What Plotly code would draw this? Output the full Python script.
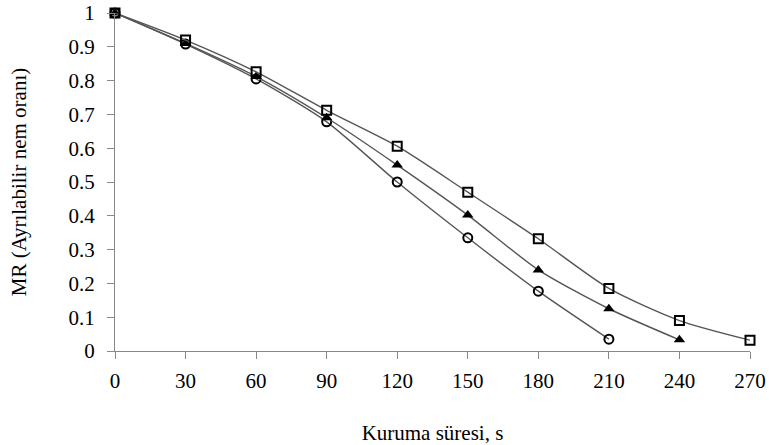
import plotly.graph_objects as go

t_circle = [0, 30, 60, 90, 120, 150, 180, 210]
mr_circle = [1.0, 0.908, 0.805, 0.678, 0.500, 0.335, 0.177, 0.035]
t_tri = [0, 30, 60, 90, 120, 150, 180, 210, 240]
mr_tri = [1.0, 0.910, 0.812, 0.690, 0.550, 0.402, 0.240, 0.125, 0.033]
t_sq = [0, 30, 60, 90, 120, 150, 180, 210, 240, 270]
mr_sq = [1.0, 0.920, 0.826, 0.712, 0.606, 0.470, 0.332, 0.185, 0.090, 0.032]

x_ticks = [0, 30, 60, 90, 120, 150, 180, 210, 240, 270]
y_ticks = [0, 0.1, 0.2, 0.3, 0.4, 0.5, 0.6, 0.7, 0.8, 0.9, 1]
y_labels = ["0", "0.1", "0.2", "0.3", "0.4", "0.5", "0.6", "0.7", "0.8", "0.9", "1"]

fig = go.Figure()
line_style = dict(color="#555555", width=1.4, shape="spline", smoothing=0.7)
fig.add_trace(go.Scatter(x=t_circle, y=mr_circle, mode="lines+markers", line=line_style,
                         marker=dict(symbol="circle-open", size=9, color="black", line=dict(width=2))))
fig.add_trace(go.Scatter(x=t_tri, y=mr_tri, mode="lines+markers", line=line_style,
                         marker=dict(symbol="triangle-up", size=10, color="black")))
fig.add_trace(go.Scatter(x=t_sq, y=mr_sq, mode="lines+markers", line=line_style,
                         marker=dict(symbol="square-open", size=9, color="black", line=dict(width=2))))

fam = "Liberation Serif, Times New Roman, serif"
font = dict(family=fam, size=21, color="black")
fig.update_layout(
    width=769, height=445,
    margin=dict(l=115, r=19, t=13, b=94),
    paper_bgcolor="white", plot_bgcolor="white",
    showlegend=False, font=font,
    xaxis=dict(range=[0, 270], tickvals=x_ticks, ticktext=[str(v) for v in x_ticks],
               showgrid=False, zeroline=False, showline=True, linecolor="#888888", linewidth=1,
               ticks="outside", ticklen=7, tickcolor="#888888", ticklabeloverflow="allow",
               ticklabelstandoff=4, automargin=False,
               title=dict(text="Kuruma süresi, s", standoff=38, font=dict(family=fam, size=21))),
    yaxis=dict(range=[0, 1], tickvals=y_ticks, ticktext=y_labels,
               showgrid=False, zeroline=False, showline=True, linecolor="#888888", linewidth=1,
               ticks="outside", ticklen=7, tickcolor="#888888", automargin=False,
               ticklabelstandoff=8,
               title=dict(text="MR (Ayrılabilir nem oranı)", standoff=36, font=dict(family=fam, size=21))),
)
fig.update_traces(cliponaxis=False)
fig.write_html("out.html")
